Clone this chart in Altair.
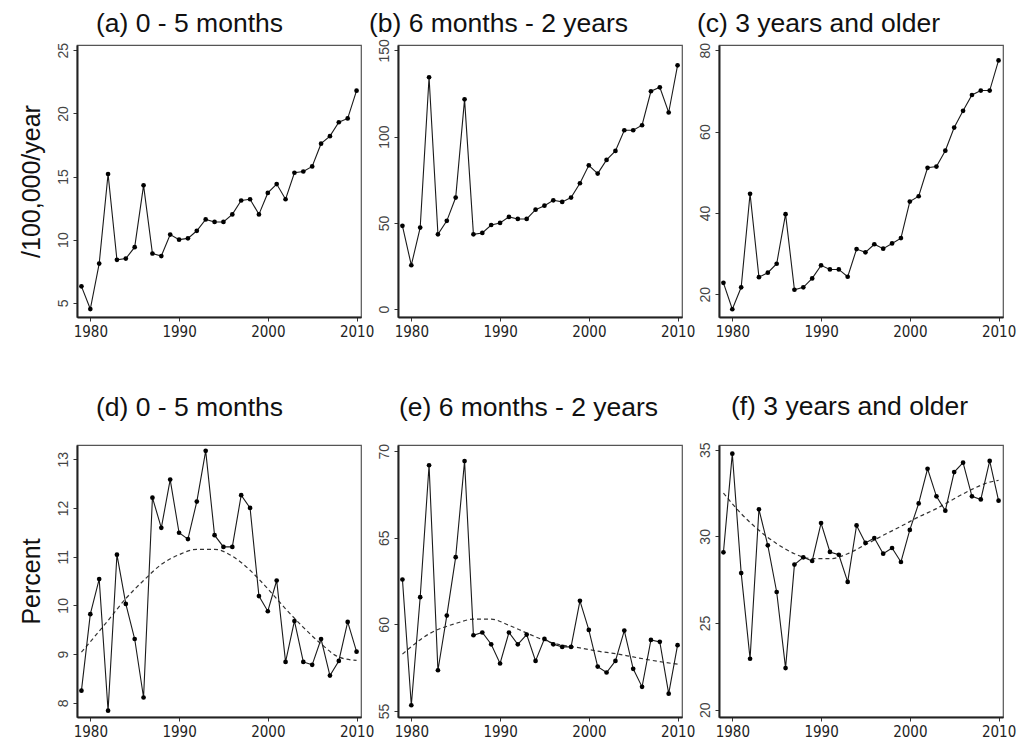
import altair as alt
import pandas as pd

years = list(range(1979, 2011))

# Incidence per 100,000 per year
rate_0_5m = [6.3, 4.5, 8.1, 15.2, 8.4, 8.5, 9.4, 14.3, 8.9, 8.7, 10.4, 10.0, 10.1, 10.7, 11.6, 11.4,
             11.4, 12.0, 13.1, 13.2, 12.0, 13.7, 14.4, 13.2, 15.3, 15.4, 15.8, 17.6, 18.2, 19.3, 19.6, 21.8]
rate_6m_2y = [48.3, 25.5, 47.3, 134.4, 43.4, 51.2, 64.7, 121.6, 43.4, 44.2, 48.8, 50.0, 53.5, 52.3, 52.3, 57.7,
              60.0, 63.1, 62.2, 64.7, 73.0, 83.4, 78.6, 86.5, 91.7, 103.7, 103.7, 106.6, 126.3, 128.6, 114.0, 141.3]
rate_3y_up = [22.8, 16.3, 21.7, 44.7, 24.2, 25.3, 27.5, 39.7, 21.1, 21.7, 23.9, 27.1, 26.1, 26.1, 24.3, 31.1,
              30.3, 32.3, 31.2, 32.5, 33.8, 42.8, 44.1, 51.1, 51.4, 55.3, 61.0, 65.1, 69.0, 70.1, 70.1, 77.5]

# Percent of cases
pct_0_5m = [8.25, 9.82, 10.54, 7.84, 11.04, 10.03, 9.31, 8.11, 12.21, 11.59, 12.58, 11.49, 11.36, 12.13, 13.17, 11.44,
            11.20, 11.20, 12.26, 12.00, 10.19, 9.88, 10.51, 8.84, 9.68, 8.84, 8.78, 9.31, 8.56, 8.86, 9.66, 9.05]
pct_6m_2y = [62.59, 55.33, 61.57, 69.19, 57.35, 60.51, 63.88, 69.43, 59.37, 59.53, 58.85, 57.74, 59.53, 58.85, 59.41, 57.89,
             59.16, 58.85, 58.70, 58.70, 61.36, 59.68, 57.56, 57.22, 57.89, 59.64, 57.43, 56.39, 59.10, 58.99, 56.00, 58.80]
pct_3y_up = [29.08, 34.77, 27.88, 22.94, 31.56, 29.48, 26.79, 22.40, 28.37, 28.79, 28.58, 30.77, 29.10, 28.94, 27.37, 30.63,
             29.62, 29.90, 29.00, 29.33, 28.52, 30.37, 31.90, 33.90, 32.31, 31.48, 33.71, 34.25, 32.31, 32.13, 34.35, 32.06]

# Smoothed trends (dashed)
smooth_years_d = [1979, 1982, 1984, 1986, 1988, 1990, 1992, 1994, 1996, 1998, 2000, 2002, 2004, 2006, 2008, 2010]
smooth_d = [9.04, 9.69, 10.14, 10.51, 10.84, 11.04, 11.15, 11.15, 11.01, 10.72, 10.34, 9.93, 9.55, 9.21, 8.94, 8.87]
smooth_years_e = [1979, 1982, 1985, 1987, 1989, 1991, 1993, 1995, 1997, 1999, 2001, 2003, 2005, 2007, 2010]
smooth_e = [58.28, 59.45, 60.05, 60.3, 60.3, 59.95, 59.5, 59.08, 58.8, 58.64, 58.45, 58.31, 58.12, 57.93, 57.7]
smooth_years_f = [1979, 1981, 1983, 1985, 1987, 1989, 1991, 1993, 1995, 1997, 1999, 2001, 2003, 2005, 2007, 2009, 2010]
smooth_f = [32.5, 31.31, 30.35, 29.58, 29.0, 28.71, 28.71, 29.0, 29.52, 30.06, 30.58, 31.12, 31.6, 32.17, 32.71, 33.13, 33.23]

x_ticks = [1980, 1990, 2000, 2010]

LABEL_NARROW = "Liberation Sans Narrow, Arial Narrow, DejaVu Sans Condensed, Liberation Sans, sans-serif"
W, H = 284, 272


def panel(title, vals, ydom, yticks, ytitle=None, sm_years=None, sm_vals=None,
          title_dx=0, title_offset=7):
    df = pd.DataFrame({"year": years, "value": vals})
    x = alt.X("year:Q",
              scale=alt.Scale(domain=[1978.5, 2010.5], nice=False, zero=False),
              axis=alt.Axis(values=x_ticks, format="d", title=None, labelFont=LABEL_NARROW,
                            labelFontSize=15, labelColor="#222", labelPadding=3,
                            labelBaseline="top", labelFlush=False))
    y = alt.Y("value:Q",
              scale=alt.Scale(domain=ydom, nice=False, zero=False),
              axis=alt.Axis(values=yticks, title=ytitle, labelAngle=270, labelAlign="center",
                            labelBaseline="bottom", labelFontSize=14, labelColor="#444",
                            labelPadding=3, labelFlush=False,
                            titleFontSize=25, titleFont="Liberation Sans", titleFontWeight="normal",
                            titleColor="#111", titlePadding=12))
    base = alt.Chart(df)
    line = base.mark_line(color="#1a1a1a", strokeWidth=1.1).encode(x=x, y=y)
    pts = base.mark_circle(color="#000", size=22, opacity=1).encode(x=x, y=y)
    layers = [line, pts]
    if sm_years is not None:
        sdf = pd.DataFrame({"year": sm_years, "value": sm_vals})
        sm = alt.Chart(sdf).mark_line(color="#333", strokeWidth=1.2, strokeDash=[4, 3],
                                      interpolate="monotone").encode(x=x, y=y)
        layers = [sm] + layers
    return alt.layer(*layers).properties(
        width=W, height=H,
        title=alt.TitleParams(title, fontSize=26.5, font="Liberation Sans", fontWeight="normal",
                              color="#111", anchor="middle", frame="group", dx=title_dx,
                              offset=title_offset, baseline="top"))


a = panel("(a) 0 - 5 months", rate_0_5m, [3.87, 25.42], [5, 10, 15, 20, 25],
          ytitle="/100,000/year", title_dx=-29.5, title_offset=5)
b = panel("(b) 6 months - 2 years", rate_6m_2y, [-4.5, 153.1], [0, 50, 100, 150],
          title_dx=-41.5, title_offset=1)
c = panel("(c) 3 years and older", rate_3y_up, [14.4, 81.3], [20, 40, 60, 80],
          title_dx=-42.5, title_offset=5)
d = panel("(d) 0 - 5 months", pct_0_5m, [7.71, 13.29], [8, 9, 10, 11, 12, 13],
          ytitle="Percent", sm_years=smooth_years_d, sm_vals=smooth_d, title_dx=-29.5, title_offset=24)
e = panel("(e) 6 months - 2 years", pct_6m_2y, [54.65, 70.36], [55, 60, 65, 70],
          sm_years=smooth_years_e, sm_vals=smooth_e, title_dx=-11.5, title_offset=22)
f = panel("(f) 3 years and older", pct_3y_up, [19.58, 35.27], [20, 25, 30, 35],
          sm_years=smooth_years_f, sm_vals=smooth_f, title_dx=-11.5, title_offset=21)

chart = alt.concat(a, b, c, d, e, f, columns=3, spacing={"row": 128, "column": 37},
                   bounds="flush").properties(
    padding={"left": 10, "top": 2, "right": 0, "bottom": 0},
    background="white",
).configure_view(
    stroke="#555", strokeWidth=1.2
).configure_axis(
    grid=False, domainColor="#222", domainWidth=2, tickColor="#333", tickSize=4,
    tickWidth=1, labelFont="Liberation Sans"
)

chart.save("out.html", embed_options={"renderer": "svg", "actions": False})
